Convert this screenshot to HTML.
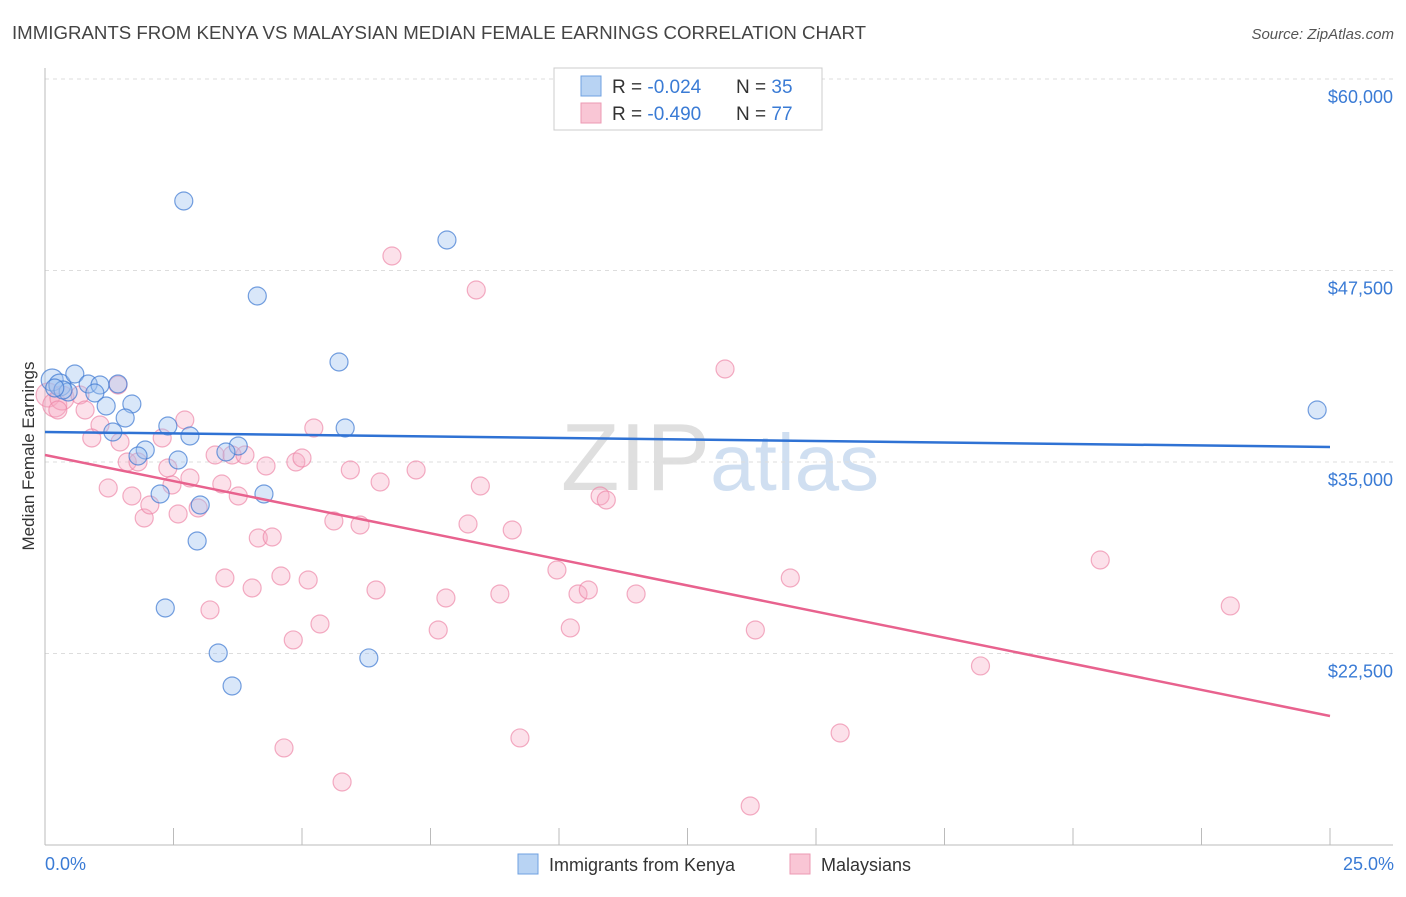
<!DOCTYPE html>
<html><head><meta charset="utf-8"><style>
body{margin:0;background:#fff;font-family:"Liberation Sans",sans-serif;}
svg text{font-family:"Liberation Sans",sans-serif;}
</style></head><body>
<svg id="chart" width="1406" height="892" viewBox="0 0 1406 892" xmlns="http://www.w3.org/2000/svg">
<text x="12" y="39" font-size="18" fill="#444" textLength="854" lengthAdjust="spacingAndGlyphs">IMMIGRANTS FROM KENYA VS MALAYSIAN MEDIAN FEMALE EARNINGS CORRELATION CHART</text>
<text x="1394" y="39" font-size="15" fill="#555" font-style="italic" text-anchor="end">Source: ZipAtlas.com</text>
<text x="720" y="490" font-size="96" text-anchor="middle" fill="#d8d8d8" font-family="Liberation Serif" opacity="0.8">ZIP<tspan fill="#c5d8ee" font-family="Liberation Sans" font-size="80">atlas</tspan></text>
<g id="grid"></g><g id="pts"></g><g id="lines"></g>
<text transform="translate(34,456) rotate(-90)" font-size="17" fill="#333" text-anchor="middle">Median Female Earnings</text>
<text x="45" y="870" font-size="18" fill="#3a7bd5">0.0%</text>
<text x="1394" y="870" font-size="18" fill="#3a7bd5" text-anchor="end">25.0%</text>
<g>
<rect x="554" y="68" width="268" height="62" fill="#fff" stroke="#ccc"/>
<rect x="581" y="76" width="20" height="20" fill="#b8d3f3" stroke="#6fa0e0"/>
<rect x="581" y="103" width="20" height="20" fill="#f9c6d5" stroke="#ec9ab3"/>
<text x="612" y="93" font-size="19" fill="#333">R = <tspan fill="#3a7bd5">-0.024</tspan></text>
<text x="736" y="93" font-size="19" fill="#333">N = <tspan fill="#3a7bd5">35</tspan></text>
<text x="612" y="120" font-size="19" fill="#333">R = <tspan fill="#3a7bd5">-0.490</tspan></text>
<text x="736" y="120" font-size="19" fill="#333">N = <tspan fill="#3a7bd5">77</tspan></text>
</g>
<g>
<rect x="518" y="854" width="20" height="20" fill="#b8d3f3" stroke="#6fa0e0"/>
<text x="549" y="871" font-size="18" fill="#333">Immigrants from Kenya</text>
<rect x="790" y="854" width="20" height="20" fill="#f9c6d5" stroke="#ec9ab3"/>
<text x="821" y="871" font-size="18" fill="#333">Malaysians</text>
</g>
</svg>
<script>
const yTicks=[60000,47500,35000,22500];
const yTickLabels=["$60,000","$47,500","$35,000","$22,500"];
const xTicks=[0,2.5,5,7.5,10,12.5,15,17.5,20,22.5,25];
const kenyaX=[0.14,0.29,0.58,0.45,0.84,1.07,0.97,1.42,1.19,1.69,1.56,1.32,2.39,1.95,1.81,2.59,2.82,2.24,3.02,2.96,2.34,2.70,3.37,3.64,3.76,3.52,4.13,4.26,5.72,5.84,6.30,7.82,24.75,0.35,0.19];
const kenyaY=[40354,40028,40746,39570,40093,40028,39505,40093,38656,38787,37873,36959,37351,35784,35393,35132,36698,32913,32195,29845,25472,52037,22535,20381,36046,35654,45836,32913,41528,37221,22209,49492,38395,39701,39832];
const malX=[0.06,0.19,0.33,0.68,0.78,1.07,0.91,1.23,1.42,1.46,1.60,1.69,1.81,1.93,2.04,2.28,2.39,2.47,2.59,2.72,2.82,2.98,3.21,3.31,3.44,3.50,3.64,3.76,3.89,4.03,4.15,4.30,4.42,4.59,4.65,4.83,4.88,5.00,5.12,5.23,5.35,5.62,5.78,5.94,6.13,6.44,6.52,6.75,7.22,7.65,7.80,8.23,8.39,8.47,8.85,9.09,9.24,9.96,10.22,10.37,10.57,10.80,10.92,11.50,13.23,13.82,14.50,15.47,18.20,20.53,23.06,13.72,0.25];
const malY=[39375,38722,39179,39375,38395,37416,36567,33304,40028,36306,35001,32782,35001,31346,32195,36567,34610,33500,31607,37742,33957,31999,25342,35458,33565,27430,35458,32782,35458,26777,30041,34740,30106,27560,16335,23384,35001,35262,27300,37221,24428,31150,14114,34479,30889,26647,33696,48447,34479,24036,26125,30954,46228,33435,26386,30563,16987,27952,24167,26386,26647,32782,32521,26386,41072,24036,27430,17313,21687,28604,25603,12548,38395];
const kenyaTrend=[36960,35980];
const malTrend=[35458,18422];
const NS="http://www.w3.org/2000/svg";
const xs=v=>45+v/25*1285;
const ys=v=>79+(60000-v)/12500*191.5;
function mk(t,a,p){const e=document.createElementNS(NS,t);for(const k in a)e.setAttribute(k,a[k]);p.appendChild(e);return e;}
const grid=document.getElementById('grid');
yTicks.forEach((t,i)=>{
 const l=mk('line',{x1:45,x2:1393,y1:ys(t),y2:ys(t),stroke:'#ddd','stroke-dasharray':'4,4'},grid);
 
 
 const tx=mk('text',{x:1393,y:ys(t)+24,'font-size':18,fill:'#3a7bd5','text-anchor':'end'},grid);
 tx.textContent=yTickLabels[i];
 
 
});
const ax=mk('line',{x1:45,x2:1393,y1:845,y2:845,stroke:'#bbb'},grid);


const ay=mk('line',{x1:45,x2:45,y1:68,y2:845,stroke:'#bbb'},grid);


xTicks.forEach(t=>{
 const l=mk('line',{x1:xs(t),x2:xs(t),y1:828,y2:845,stroke:'#bbb'},grid);
 
 
});
const pts=document.getElementById('pts');
malX.forEach((x,i)=>{
 const c=mk('circle',{cx:xs(x),cy:ys(malY[i]),r:i<3?12:9,fill:'rgba(246,170,195,0.35)',stroke:'rgba(236,130,165,0.65)','stroke-width':1.2},pts);
 
 
});
kenyaX.forEach((x,i)=>{
 const c=mk('circle',{cx:xs(x),cy:ys(kenyaY[i]),r:i<2?11:9,fill:'rgba(160,195,240,0.4)',stroke:'rgba(60,120,210,0.7)','stroke-width':1.2},pts);
 
 
});
const lines=document.getElementById('lines');
const lb=mk('line',{x1:xs(0),x2:xs(25),y1:ys(kenyaTrend[0]),y2:ys(kenyaTrend[1]),stroke:'#2f72d4','stroke-width':2.5},lines);


const lp=mk('line',{x1:xs(0),x2:xs(25),y1:ys(malTrend[0]),y2:ys(malTrend[1]),stroke:'#e8628e','stroke-width':2.5},lines);


</script>
</body></html>
